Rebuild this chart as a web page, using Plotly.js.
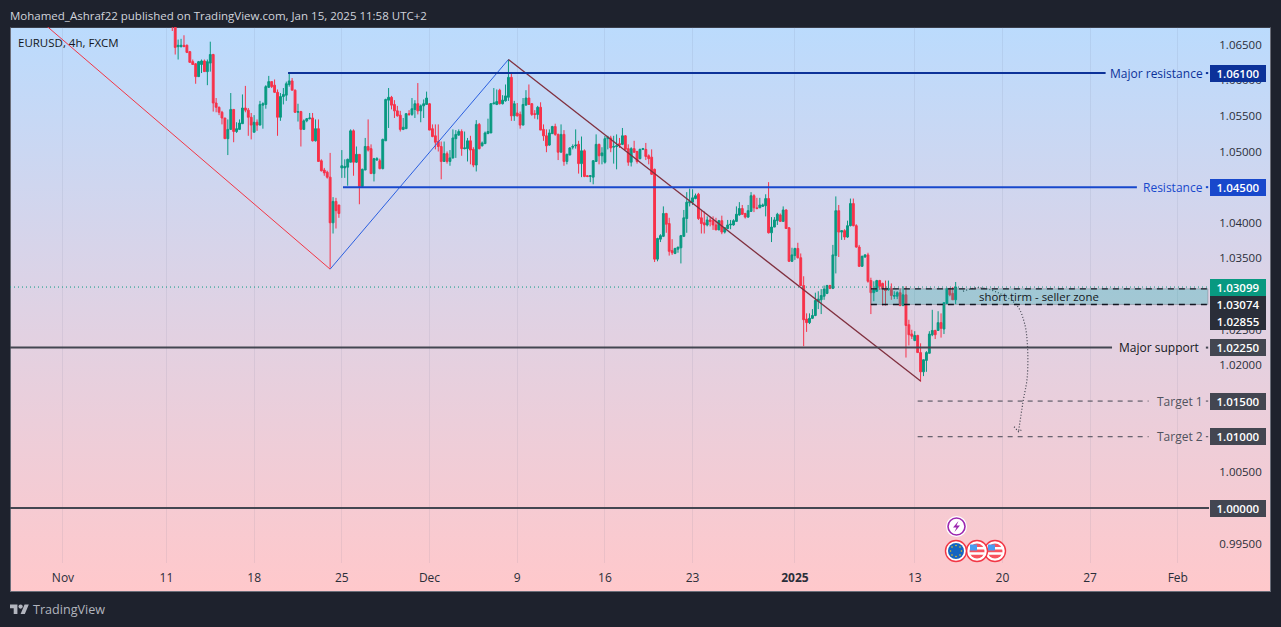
<!DOCTYPE html>
<html><head><meta charset="utf-8">
<script src="https://cdn.plot.ly/plotly-3.0.1.min.js"></script>
<style>
html,body{margin:0;padding:0;background:#1e222d;width:1281px;height:627px;overflow:hidden}
#panel{position:absolute;left:10px;top:27px;width:1259px;height:563px;border:1px solid #6a6d78;border-top-color:#3a3e4a;background:linear-gradient(to bottom,#bbdbfd 0%,#dfd2e4 50%,#ffc8cb 100%)}
#chart{position:absolute;left:0;top:0;width:1281px;height:627px}
svg.ov{position:absolute;left:0;top:0;pointer-events:none}
</style></head><body>
<div id="panel"></div><div id="chart"></div>
<svg class="ov" width="1281" height="627">
 <g fill="#b2b5be" transform="translate(10,604.5) scale(0.53)"><path d="M14 18H7V7H0V0h14v18zM28 18h-8l7.5-18h8L28 18z"/><circle cx="20" cy="4" r="4"/></g>
 <g>
  <circle cx="956.5" cy="526.5" r="10.5" fill="#fff"/><circle cx="956.5" cy="526.5" r="8.5" fill="#fff" stroke="#9c27b0" stroke-width="1.6"/>
  <path d="M958.5 521 L953 527.5 H956.5 L954.5 532 L960 525.5 H956.5 Z" fill="#9c27b0"/>
  <circle cx="995" cy="551" r="10.5" fill="#fff" stroke="#f23645" stroke-width="1.4"/><circle cx="995" cy="551" r="7.5" fill="#f7525f"/><path d="M987.5 547h15v2.6h-7.5v-2.6zM987.5 552.2h15v2.6h-15z" fill="#fff"/><rect x="988" y="544.5" width="7" height="6" fill="#4a9bf0"/>
  <circle cx="977" cy="551" r="10.5" fill="#fff" stroke="#f23645" stroke-width="1.4"/><circle cx="977" cy="551" r="7.5" fill="#f7525f"/><path d="M969.5 547h15v2.6h-7.5v-2.6zM969.5 552.2h15v2.6h-15z" fill="#fff"/><rect x="970" y="544.5" width="7" height="6" fill="#4a9bf0"/>
  <circle cx="956" cy="551" r="10.5" fill="#fff" stroke="#f23645" stroke-width="1.4"/><circle cx="956" cy="551" r="8" fill="#1565c0"/>
  <g fill="#f5c518"><circle cx="956" cy="545.5" r=".8"/><circle cx="961.5" cy="551" r=".8"/><circle cx="956" cy="556.5" r=".8"/><circle cx="950.5" cy="551" r=".8"/><circle cx="960" cy="547" r=".8"/><circle cx="960" cy="555" r=".8"/><circle cx="952" cy="555" r=".8"/><circle cx="952" cy="547" r=".8"/></g>
 </g>
</svg>
<script>
const opens=[1.0710,1.0690,1.0647,1.0647,1.0649,1.0649,1.0640,1.0626,1.0623,1.0605,
1.0622,1.0627,1.0612,1.0624,1.0636,1.0568,1.0562,1.0555,1.0547,1.0518,
1.0531,1.0559,1.0528,1.0531,1.0539,1.0561,1.0558,1.0548,1.0527,1.0541,
1.0537,1.0565,1.0566,1.0590,1.0598,1.0593,1.0583,1.0548,1.0577,1.0579,
1.0594,1.0599,1.0586,1.0555,1.0556,1.0531,1.0543,1.0546,1.0547,1.0515,
1.0532,1.0487,1.0474,1.0471,1.0464,1.0400,1.0430,1.0425,
1.0477,1.0477,1.0478,1.0485,1.0529,1.0485,1.0496,1.0451,1.0474,1.0507,
1.0504,1.0469,1.0488,1.0487,1.0476,1.0515,1.0572,1.0576,1.0566,1.0557,
1.0551,1.0531,1.0532,1.0553,1.0552,1.0559,1.0567,1.0557,1.0564,1.0566,
1.0567,1.0532,1.0522,1.0514,1.0507,1.0486,1.0497,1.0486,1.0491,1.0518,
1.0523,1.0528,1.0504,1.0504,1.0515,1.0503,1.0481,1.0538,1.0508,1.0511,
1.0525,1.0526,1.0567,1.0566,1.0586,1.0567,1.0571,1.0576,1.0604,1.0550,
1.0554,1.0552,1.0537,1.0565,1.0575,1.0567,1.0553,1.0552,1.0562,1.0531,
1.0522,1.0509,1.0525,1.0535,1.0524,1.0499,1.0524,1.0486,1.0495,1.0506,
1.0508,1.0510,1.0483,1.0501,1.0466,1.0465,1.0464,1.0486,1.0510,1.0494,
1.0485,1.0518,1.0519,1.0506,1.0507,1.0511,1.0510,1.0522,1.0504,1.0485,
1.0504,1.0500,1.0490,1.0503,1.0503,1.0494,1.0492,1.0475,1.0349,1.0377,
1.0381,1.0413,1.0399,1.0361,1.0357,1.0363,1.0365,1.0381,1.0406,1.0428,
1.0429,1.0434,1.0440,1.0407,1.0400,1.0397,1.0404,1.0403,1.0397,1.0390,
1.0403,1.0387,1.0392,1.0397,1.0397,1.0402,1.0411,1.0420,1.0413,1.0408,
1.0416,1.0438,1.0421,1.0421,1.0423,1.0424,1.0434,1.0386,1.0394,1.0403,
1.0411,1.0402,1.0418,1.0393,1.0346,1.0354,1.0364,1.0351,1.0312,1.0265,
1.0260,1.0266,1.0270,1.0290,1.0292,1.0297,1.0301,1.0312,1.0308,1.0354,
1.0417,1.0387,1.0389,1.0380,1.0396,1.0427,1.0396,1.0366,1.0339,1.0352,
1.0355,1.0319,1.0302,1.0304,1.0319,1.0315,1.0307,1.0306,1.0308,1.0297,
1.0297,1.0302,1.0284,1.0299,1.0257,1.0244,1.0235,1.0242,1.0218,1.0191,
1.0207,1.0217,1.0243,1.0249,1.0249,1.0260,1.0251,1.0287,1.0308,1.0301,
1.0292];
const highs=[1.0715,1.0695,1.0657,1.0658,1.0663,1.0650,1.0641,1.0629,1.0624,1.0627,
1.0629,1.0629,1.0629,1.0654,1.0637,1.0575,1.0563,1.0557,1.0547,1.0545,
1.0582,1.0559,1.0541,1.0545,1.0580,1.0592,1.0561,1.0554,1.0551,1.0545,
1.0571,1.0569,1.0593,1.0606,1.0598,1.0601,1.0587,1.0582,1.0589,1.0598,
1.0609,1.0603,1.0587,1.0567,1.0557,1.0545,1.0547,1.0554,1.0554,1.0545,
1.0545,1.0489,1.0477,1.0473,1.0498,1.0436,1.0435,1.0425,
1.0502,1.0489,1.0490,1.0531,1.0531,1.0507,1.0496,1.0476,1.0519,1.0545,
1.0510,1.0491,1.0492,1.0490,1.0518,1.0574,1.0589,1.0578,1.0572,1.0564,
1.0557,1.0547,1.0554,1.0558,1.0575,1.0572,1.0596,1.0566,1.0573,1.0584,
1.0568,1.0538,1.0538,1.0538,1.0514,1.0514,1.0500,1.0502,1.0531,1.0530,
1.0531,1.0531,1.0528,1.0519,1.0522,1.0506,1.0544,1.0540,1.0514,1.0528,
1.0546,1.0568,1.0589,1.0587,1.0588,1.0579,1.0594,1.0629,1.0610,1.0571,
1.0568,1.0556,1.0575,1.0586,1.0594,1.0568,1.0558,1.0564,1.0569,1.0538,
1.0531,1.0531,1.0536,1.0539,1.0525,1.0538,1.0530,1.0497,1.0506,1.0510,
1.0531,1.0515,1.0521,1.0503,1.0467,1.0467,1.0488,1.0524,1.0511,1.0506,
1.0522,1.0522,1.0522,1.0522,1.0524,1.0519,1.0533,1.0523,1.0510,1.0506,
1.0515,1.0501,1.0504,1.0505,1.0512,1.0496,1.0503,1.0476,1.0379,1.0384,
1.0423,1.0414,1.0407,1.0377,1.0365,1.0366,1.0383,1.0418,1.0443,1.0448,
1.0447,1.0441,1.0442,1.0418,1.0416,1.0409,1.0408,1.0409,1.0407,1.0404,
1.0410,1.0394,1.0404,1.0404,1.0405,1.0423,1.0429,1.0425,1.0414,1.0425,
1.0443,1.0440,1.0435,1.0435,1.0427,1.0440,1.0457,1.0408,1.0408,1.0414,
1.0413,1.0423,1.0419,1.0394,1.0365,1.0365,1.0372,1.0357,1.0325,1.0273,
1.0273,1.0279,1.0302,1.0304,1.0307,1.0312,1.0313,1.0313,1.0369,1.0437,
1.0425,1.0389,1.0391,1.0403,1.0434,1.0434,1.0398,1.0369,1.0354,1.0356,
1.0358,1.0323,1.0318,1.0320,1.0320,1.0316,1.0319,1.0319,1.0315,1.0304,
1.0304,1.0308,1.0311,1.0311,1.0264,1.0250,1.0248,1.0243,1.0231,1.0208,
1.0220,1.0248,1.0278,1.0250,1.0276,1.0273,1.0288,1.0308,1.0308,1.0310,
1.0317];
const lows=[1.0669,1.0636,1.0629,1.0646,1.0647,1.0638,1.0625,1.0622,1.0595,1.0605,
1.0610,1.0612,1.0593,1.0612,1.0556,1.0555,1.0551,1.0538,1.0518,1.0495,
1.0531,1.0513,1.0526,1.0531,1.0539,1.0555,1.0522,1.0517,1.0527,1.0529,
1.0537,1.0532,1.0560,1.0589,1.0589,1.0582,1.0522,1.0543,1.0566,1.0571,
1.0591,1.0586,1.0554,1.0542,1.0507,1.0531,1.0541,1.0545,1.0514,1.0514,
1.0486,1.0472,1.0466,1.0462,1.0337,1.0385,1.0392,1.0407,
1.0463,1.0463,1.0452,1.0485,1.0466,1.0484,1.0426,1.0451,1.0474,1.0500,
1.0469,1.0458,1.0487,1.0475,1.0475,1.0515,1.0533,1.0559,1.0547,1.0549,
1.0528,1.0530,1.0532,1.0550,1.0550,1.0547,1.0552,1.0541,1.0547,1.0566,
1.0530,1.0520,1.0503,1.0500,1.0461,1.0486,1.0483,1.0480,1.0490,1.0491,
1.0522,1.0494,1.0503,1.0486,1.0482,1.0478,1.0472,1.0503,1.0507,1.0511,
1.0525,1.0526,1.0566,1.0565,1.0566,1.0566,1.0570,1.0571,1.0543,1.0543,
1.0549,1.0532,1.0537,1.0565,1.0566,1.0550,1.0546,1.0545,1.0530,1.0515,
1.0499,1.0508,1.0525,1.0522,1.0488,1.0499,1.0480,1.0482,1.0495,1.0503,
1.0504,1.0469,1.0464,1.0464,1.0464,1.0457,1.0454,1.0486,1.0482,1.0482,
1.0483,1.0503,1.0499,1.0483,1.0475,1.0505,1.0509,1.0503,1.0480,1.0479,
1.0498,1.0483,1.0489,1.0502,1.0488,1.0482,1.0467,1.0345,1.0346,1.0373,
1.0380,1.0386,1.0354,1.0355,1.0356,1.0358,1.0343,1.0380,1.0386,1.0423,
1.0425,1.0433,1.0404,1.0385,1.0385,1.0395,1.0395,1.0390,1.0390,1.0390,
1.0384,1.0385,1.0391,1.0391,1.0396,1.0402,1.0410,1.0411,1.0406,1.0407,
1.0416,1.0415,1.0419,1.0421,1.0423,1.0409,1.0385,1.0373,1.0394,1.0397,
1.0402,1.0402,1.0392,1.0345,1.0345,1.0348,1.0350,1.0312,1.0227,1.0247,
1.0258,1.0265,1.0269,1.0279,1.0272,1.0292,1.0300,1.0307,1.0307,1.0329,
1.0352,1.0376,1.0376,1.0379,1.0395,1.0395,1.0365,1.0338,1.0338,1.0351,
1.0316,1.0272,1.0290,1.0303,1.0306,1.0284,1.0284,1.0305,1.0292,1.0293,
1.0293,1.0283,1.0283,1.0211,1.0228,1.0237,1.0234,1.0218,1.0177,1.0185,
1.0191,1.0217,1.0241,1.0237,1.0249,1.0239,1.0244,1.0286,1.0297,1.0292,
1.0286];
const closes=[1.0690,1.0646,1.0649,1.0649,1.0647,1.0639,1.0625,1.0622,1.0605,1.0626,
1.0627,1.0612,1.0626,1.0636,1.0568,1.0562,1.0555,1.0547,1.0518,1.0531,
1.0559,1.0528,1.0532,1.0540,1.0561,1.0558,1.0548,1.0537,1.0541,1.0537,
1.0566,1.0567,1.0591,1.0598,1.0591,1.0583,1.0548,1.0577,1.0580,1.0595,
1.0599,1.0586,1.0555,1.0556,1.0531,1.0543,1.0546,1.0547,1.0515,1.0532,
1.0486,1.0473,1.0470,1.0464,1.0400,1.0430,1.0417,1.0413,
1.0480,1.0479,1.0489,1.0529,1.0485,1.0496,1.0451,1.0475,1.0507,1.0502,
1.0469,1.0490,1.0490,1.0476,1.0517,1.0573,1.0576,1.0565,1.0557,1.0550,
1.0531,1.0534,1.0553,1.0552,1.0560,1.0567,1.0557,1.0564,1.0567,1.0575,
1.0530,1.0521,1.0513,1.0507,1.0486,1.0497,1.0486,1.0491,1.0519,1.0524,
1.0528,1.0504,1.0505,1.0515,1.0502,1.0481,1.0538,1.0504,1.0512,1.0526,
1.0528,1.0567,1.0568,1.0570,1.0567,1.0572,1.0578,1.0604,1.0550,1.0567,
1.0550,1.0537,1.0566,1.0575,1.0566,1.0552,1.0552,1.0562,1.0530,1.0522,
1.0508,1.0526,1.0535,1.0524,1.0499,1.0524,1.0486,1.0496,1.0505,1.0507,
1.0509,1.0483,1.0501,1.0465,1.0465,1.0466,1.0487,1.0510,1.0494,1.0498,
1.0518,1.0520,1.0505,1.0507,1.0508,1.0509,1.0522,1.0503,1.0485,1.0504,
1.0499,1.0486,1.0503,1.0504,1.0493,1.0490,1.0468,1.0349,1.0378,1.0382,
1.0413,1.0398,1.0360,1.0358,1.0364,1.0366,1.0382,1.0407,1.0429,1.0430,
1.0435,1.0438,1.0406,1.0399,1.0397,1.0404,1.0402,1.0397,1.0390,1.0403,
1.0387,1.0393,1.0397,1.0398,1.0403,1.0412,1.0420,1.0412,1.0408,1.0417,
1.0438,1.0421,1.0420,1.0425,1.0425,1.0434,1.0386,1.0394,1.0404,1.0412,
1.0402,1.0418,1.0392,1.0346,1.0355,1.0364,1.0351,1.0312,1.0264,1.0260,
1.0266,1.0270,1.0291,1.0293,1.0298,1.0307,1.0312,1.0308,1.0355,1.0417,
1.0387,1.0389,1.0380,1.0396,1.0427,1.0396,1.0366,1.0339,1.0353,1.0355,
1.0318,1.0302,1.0306,1.0319,1.0311,1.0307,1.0305,1.0308,1.0298,1.0298,
1.0302,1.0284,1.0299,1.0256,1.0243,1.0241,1.0242,1.0218,1.0191,1.0208,
1.0218,1.0244,1.0249,1.0243,1.0260,1.0252,1.0288,1.0308,1.0299,1.0292,
1.0310];
const barIndex=opens.map((_,i)=>i);

const timeTickVals=[-37.4,-2,28,58,88,118,148,178,213,254,284,314,344];
const timeTickText=['Nov','11','18','25','Dec','9','16','23','<b>2025</b>','13','20','27','Feb'];
const priceTickVals=[0.995,1.005,1.02,1.025,1.035,1.04,1.05,1.055,1.06,1.065];
const priceTickText=['0.99500','1.00500','1.02000','1.02500','1.03500','1.04000','1.05000','1.05500','1.06000','1.06500'];

const levelMajorRes=1.061, levelRes=1.045, levelMajorSup=1.0225, levelT1=1.015, levelT2=1.01, levelParity=1.0, lastPrice=1.03099, zoneTop=1.03074, zoneBottom=1.02855;
const X0=-55.52, X1=354.67;

const redLegX=[-43,54], redLegY=[1.0676,1.0335];
const blueLegX=[54,115], blueLegY=[1.0335,1.0629];
const brownLegX=[115,256], brownLegY=[1.0629,1.0178];
const curveX=[270.5,276,283,289,291.5,292.5,292.5,291,289.5], curveY=[1.0304,1.0309,1.0301,1.0284,1.0260,1.0232,1.0184,1.0148,1.0107];
const arrowX=[288,289.5,291], arrowY=[1.0114,1.0107,1.0111];

function line(x,y,color,width,dash,extra){return Object.assign({type:'scatter',mode:'lines',x:x,y:y,hoverinfo:'skip',line:{color:color,width:width,dash:dash||'solid'}},extra||{});}
const RES='#0c3299',RES2='#1848cc',DK='#434651',CURVE='#3c3f4a';
const traces=[
 {type:'candlestick',x:barIndex,open:opens,high:highs,low:lows,close:closes,hoverinfo:'skip',whiskerwidth:0,
  increasing:{line:{color:'#089981',width:1},fillcolor:'#089981'},decreasing:{line:{color:'#f7324a',width:1},fillcolor:'#f7324a'}},
 line([X0,X1],[lastPrice,lastPrice],'#089981',1,'1px 3px'),
 line(redLegX,redLegY,'#f23645',1),
 line(blueLegX,blueLegY,'#2a5fe0',1),
 line(brownLegX,brownLegY,'#80303f',1.3),
 line([39.6,319.3],[levelMajorRes,levelMajorRes],RES,2),
 line([353.6,354.4],[levelMajorRes,levelMajorRes],RES,2),
 line([58.4,330],[levelRes,levelRes],RES2,2),
 line([353.6,354.4],[levelRes,levelRes],RES2,2),
 line([X0,321.5],[levelMajorSup,levelMajorSup],DK,2),
 line([353.6,354.4],[levelMajorSup,levelMajorSup],DK,2),
 line([255,334],[levelT1,levelT1],DK,1,'5px 5px'),
 line([353.6,354.4],[levelT1,levelT1],DK,1),
 line([255,334],[levelT2,levelT2],DK,1,'5px 5px'),
 line([353.6,354.4],[levelT2,levelT2],DK,1),
 line([X0,X1],[levelParity,levelParity],DK,2),
 Object.assign(line(curveX,curveY,CURVE,1,'1px 2px'),{line:{color:CURVE,width:1.2,dash:'1px 2px',shape:'spline'}}),
 line(arrowX,arrowY,CURVE,1.2,'1px 2px')
];
const shapes=[
 {type:'rect',xref:'x',yref:'y',x0:239,x1:354.3,y0:zoneBottom,y1:zoneTop,fillcolor:'rgba(0,170,165,0.27)',line:{width:1,color:'rgba(120,123,134,0.45)'}},
 {type:'line',xref:'x',yref:'y',x0:239,x1:354.3,y0:zoneTop,y1:zoneTop,line:{color:'#131722',width:1.4,dash:'6px 5px'}},
 {type:'line',xref:'x',yref:'y',x0:239,x1:354.3,y0:zoneBottom,y1:zoneBottom,line:{color:'#131722',width:1.4,dash:'6px 5px'}}
];
const pxX=X=>(X-10)/1199, pxY=Y=>(563-Y)/536;
const F='"Open Sans",sans-serif';
const boxes=[['1.06100',levelMajorRes,0,RES],['1.04500',levelRes,0,RES2],['1.03099',lastPrice,0,'#089981'],['1.03074',zoneTop,-15.5,'#2a2e39'],['1.02855',zoneBottom,-17,'#2a2e39'],['1.02250',levelMajorSup,0,'#434651'],['1.01500',levelT1,0,'#434651'],['1.01000',levelT2,0,'#434651'],['1.00000',levelParity,0,'#434651']];
const annotations=boxes.map(b=>({xref:'paper',yref:'y',x:pxX(1210),y:b[1],yshift:b[2],xanchor:'left',yanchor:'middle',text:b[0],showarrow:false,bgcolor:b[3],width:56,height:17,borderwidth:0,borderpad:0,align:'center',valign:'middle',font:{family:F,size:11.5,weight:600,color:'#ffffff'}}));
function lab(t,X,lvl,c,anchor,size){return {xref:'paper',yref:'y',x:pxX(X),y:lvl,xanchor:anchor||'right',yanchor:'middle',text:t,showarrow:false,font:{family:F,size:size||12,color:c}};}
annotations.push(lab('Major resistance',1204.5,levelMajorRes,RES));
annotations.push(lab('Resistance',1204.5,levelRes,RES2));
annotations.push(lab('Major support',1200.5,levelMajorSup,'#131722'));
annotations.push(lab('Target 1',1204.5,levelT1,'#50535e'));
annotations.push(lab('Target 2',1204.5,levelT2,'#50535e'));
annotations.push(lab('short tirm - seller zone',1039,(zoneTop+zoneBottom)/2,'#131722','center',11.4));
function pap(t,X,Y,c,size){return {xref:'paper',yref:'paper',x:pxX(X),y:pxY(Y),xanchor:'left',yanchor:'middle',text:t,showarrow:false,font:{family:F,size:size,color:c}};}
annotations.push(pap('Mohamed_Ashraf22 published on TradingView.com, Jan 15, 2025 11:58 UTC+2',8,15,'#d1d4dc',11.5));
annotations.push(pap('EURUSD, 4h, FXCM',16,42,'#131722',11.5));
annotations.push(pap('TradingView',31,609,'#b2b5be',12.6));

const layout={width:1281,height:627,margin:{l:10,r:72,t:27,b:64,pad:0},paper_bgcolor:'rgba(0,0,0,0)',plot_bgcolor:'rgba(0,0,0,0)',showlegend:false,boxgap:0.1,
 xaxis:{type:'linear',range:[X0,X1],rangeslider:{visible:false},tickmode:'array',tickvals:timeTickVals,ticktext:timeTickText,showgrid:true,gridcolor:'rgba(100,110,140,0.10)',gridwidth:1,zeroline:false,showline:false,ticks:'outside',ticklen:4,tickcolor:'rgba(0,0,0,0)',tickfont:{family:F,size:12,color:'#2a2e39'}},
 yaxis:{type:'linear',side:'right',range:[0.99229,1.06746],tickmode:'array',tickvals:priceTickVals,ticktext:priceTickText,showgrid:false,zeroline:false,showline:false,ticks:'outside',ticklen:7,tickcolor:'rgba(0,0,0,0)',tickfont:{family:F,size:11.5,color:'#2a2e39'}},
 shapes:shapes,annotations:annotations};
Plotly.newPlot('chart',traces,layout,{displayModeBar:false,staticPlot:true});
</script></body></html>
